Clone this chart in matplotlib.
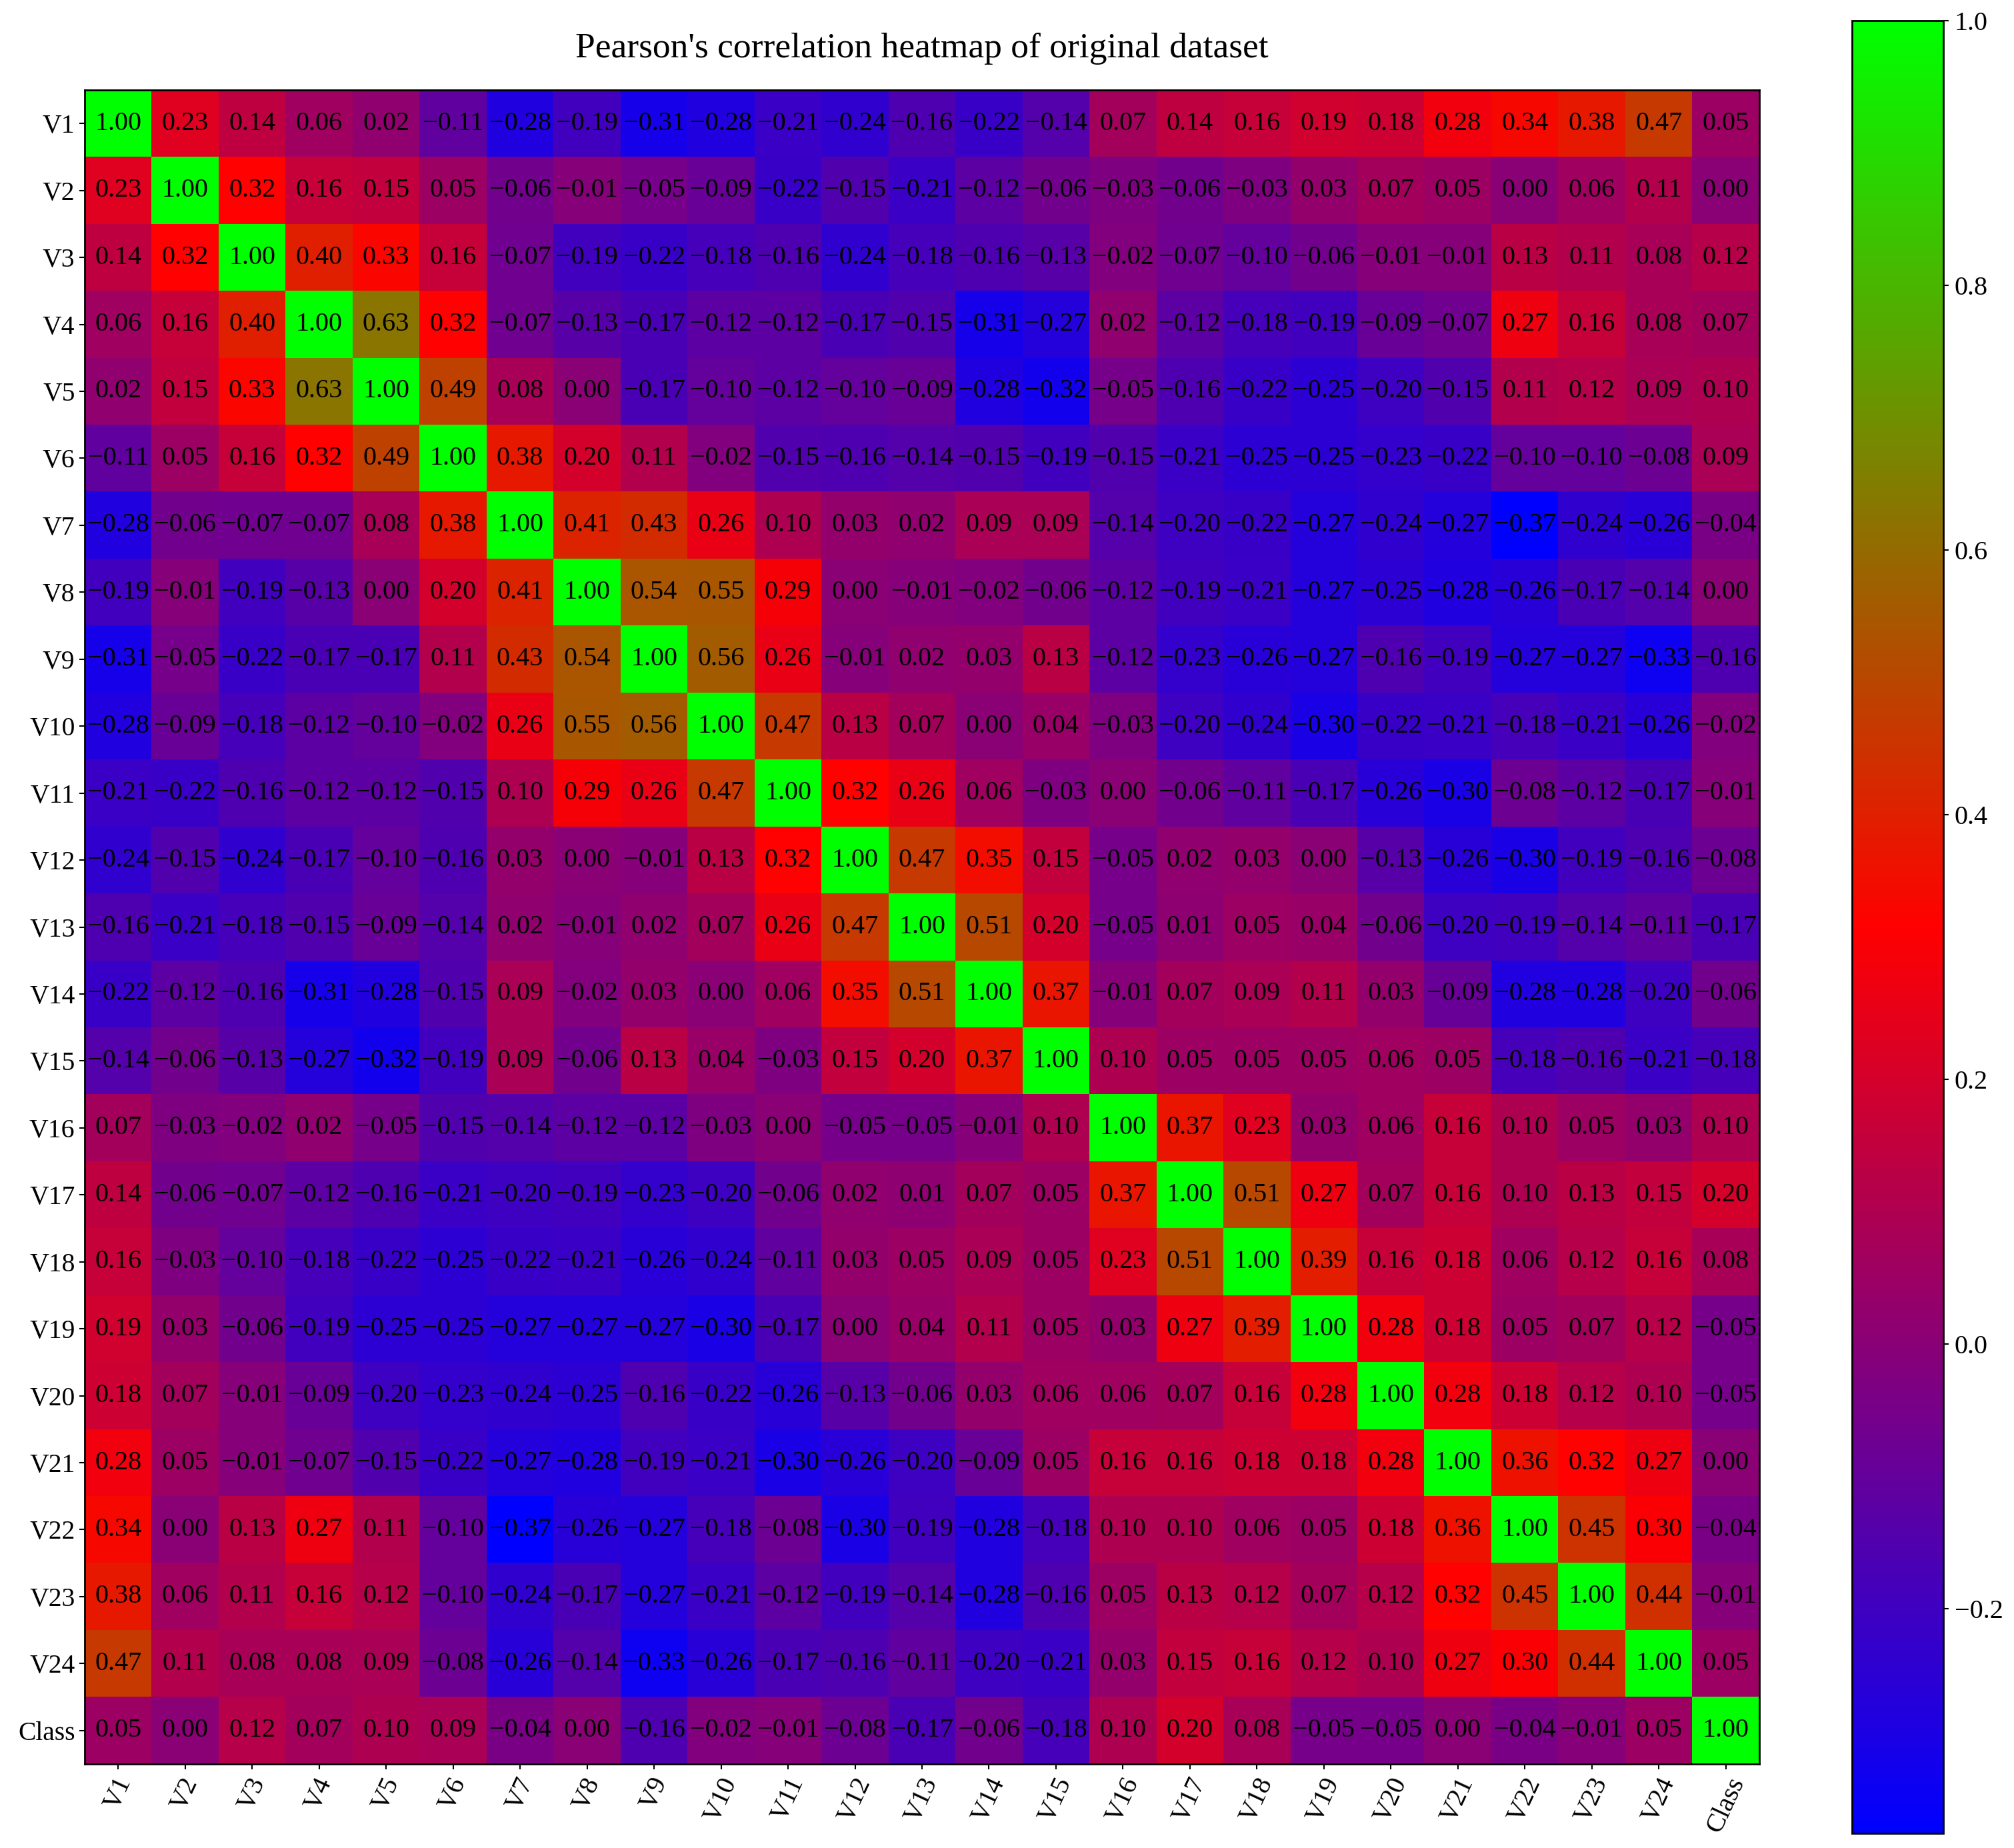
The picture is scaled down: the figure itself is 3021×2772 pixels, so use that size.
import matplotlib
matplotlib.use('Agg')
import matplotlib.pyplot as plt
import numpy as np

labels = ['V1', 'V2', 'V3', 'V4', 'V5', 'V6', 'V7', 'V8', 'V9', 'V10', 'V11', 'V12', 'V13',
          'V14', 'V15', 'V16', 'V17', 'V18', 'V19', 'V20', 'V21', 'V22', 'V23', 'V24', 'Class']
cbar_ticks = [-0.2, 0.0, 0.2, 0.4, 0.6, 0.8, 1.0]

# correlation rows
r_v1 = [1.00, 0.23, 0.14, 0.06, 0.02, -0.11, -0.28, -0.19, -0.31, -0.28, -0.21, -0.24, -0.16, -0.22, -0.14, 0.07, 0.14, 0.16, 0.19, 0.18, 0.28, 0.34, 0.38, 0.47, 0.05]
r_v2 = [0.23, 1.00, 0.32, 0.16, 0.15, 0.05, -0.06, -0.01, -0.05, -0.09, -0.22, -0.15, -0.21, -0.12, -0.06, -0.03, -0.06, -0.03, 0.03, 0.07, 0.05, 0.00, 0.06, 0.11, 0.00]
r_v3 = [0.14, 0.32, 1.00, 0.40, 0.33, 0.16, -0.07, -0.19, -0.22, -0.18, -0.16, -0.24, -0.18, -0.16, -0.13, -0.02, -0.07, -0.10, -0.06, -0.01, -0.01, 0.13, 0.11, 0.08, 0.12]
r_v4 = [0.06, 0.16, 0.40, 1.00, 0.63, 0.32, -0.07, -0.13, -0.17, -0.12, -0.12, -0.17, -0.15, -0.31, -0.27, 0.02, -0.12, -0.18, -0.19, -0.09, -0.07, 0.27, 0.16, 0.08, 0.07]
r_v5 = [0.02, 0.15, 0.33, 0.63, 1.00, 0.49, 0.08, 0.00, -0.17, -0.10, -0.12, -0.10, -0.09, -0.28, -0.32, -0.05, -0.16, -0.22, -0.25, -0.20, -0.15, 0.11, 0.12, 0.09, 0.10]
r_v6 = [-0.11, 0.05, 0.16, 0.32, 0.49, 1.00, 0.38, 0.20, 0.11, -0.02, -0.15, -0.16, -0.14, -0.15, -0.19, -0.15, -0.21, -0.25, -0.25, -0.23, -0.22, -0.10, -0.10, -0.08, 0.09]
r_v7 = [-0.28, -0.06, -0.07, -0.07, 0.08, 0.38, 1.00, 0.41, 0.43, 0.26, 0.10, 0.03, 0.02, 0.09, 0.09, -0.14, -0.20, -0.22, -0.27, -0.24, -0.27, -0.37, -0.24, -0.26, -0.04]
r_v8 = [-0.19, -0.01, -0.19, -0.13, 0.00, 0.20, 0.41, 1.00, 0.54, 0.55, 0.29, 0.00, -0.01, -0.02, -0.06, -0.12, -0.19, -0.21, -0.27, -0.25, -0.28, -0.26, -0.17, -0.14, 0.00]
r_v9 = [-0.31, -0.05, -0.22, -0.17, -0.17, 0.11, 0.43, 0.54, 1.00, 0.56, 0.26, -0.01, 0.02, 0.03, 0.13, -0.12, -0.23, -0.26, -0.27, -0.16, -0.19, -0.27, -0.27, -0.33, -0.16]
r_v10 = [-0.28, -0.09, -0.18, -0.12, -0.10, -0.02, 0.26, 0.55, 0.56, 1.00, 0.47, 0.13, 0.07, 0.00, 0.04, -0.03, -0.20, -0.24, -0.30, -0.22, -0.21, -0.18, -0.21, -0.26, -0.02]
r_v11 = [-0.21, -0.22, -0.16, -0.12, -0.12, -0.15, 0.10, 0.29, 0.26, 0.47, 1.00, 0.32, 0.26, 0.06, -0.03, 0.00, -0.06, -0.11, -0.17, -0.26, -0.30, -0.08, -0.12, -0.17, -0.01]
r_v12 = [-0.24, -0.15, -0.24, -0.17, -0.10, -0.16, 0.03, 0.00, -0.01, 0.13, 0.32, 1.00, 0.47, 0.35, 0.15, -0.05, 0.02, 0.03, 0.00, -0.13, -0.26, -0.30, -0.19, -0.16, -0.08]
r_v13 = [-0.16, -0.21, -0.18, -0.15, -0.09, -0.14, 0.02, -0.01, 0.02, 0.07, 0.26, 0.47, 1.00, 0.51, 0.20, -0.05, 0.01, 0.05, 0.04, -0.06, -0.20, -0.19, -0.14, -0.11, -0.17]
r_v14 = [-0.22, -0.12, -0.16, -0.31, -0.28, -0.15, 0.09, -0.02, 0.03, 0.00, 0.06, 0.35, 0.51, 1.00, 0.37, -0.01, 0.07, 0.09, 0.11, 0.03, -0.09, -0.28, -0.28, -0.20, -0.06]
r_v15 = [-0.14, -0.06, -0.13, -0.27, -0.32, -0.19, 0.09, -0.06, 0.13, 0.04, -0.03, 0.15, 0.20, 0.37, 1.00, 0.10, 0.05, 0.05, 0.05, 0.06, 0.05, -0.18, -0.16, -0.21, -0.18]
r_v16 = [0.07, -0.03, -0.02, 0.02, -0.05, -0.15, -0.14, -0.12, -0.12, -0.03, 0.00, -0.05, -0.05, -0.01, 0.10, 1.00, 0.37, 0.23, 0.03, 0.06, 0.16, 0.10, 0.05, 0.03, 0.10]
r_v17 = [0.14, -0.06, -0.07, -0.12, -0.16, -0.21, -0.20, -0.19, -0.23, -0.20, -0.06, 0.02, 0.01, 0.07, 0.05, 0.37, 1.00, 0.51, 0.27, 0.07, 0.16, 0.10, 0.13, 0.15, 0.20]
r_v18 = [0.16, -0.03, -0.10, -0.18, -0.22, -0.25, -0.22, -0.21, -0.26, -0.24, -0.11, 0.03, 0.05, 0.09, 0.05, 0.23, 0.51, 1.00, 0.39, 0.16, 0.18, 0.06, 0.12, 0.16, 0.08]
r_v19 = [0.19, 0.03, -0.06, -0.19, -0.25, -0.25, -0.27, -0.27, -0.27, -0.30, -0.17, 0.00, 0.04, 0.11, 0.05, 0.03, 0.27, 0.39, 1.00, 0.28, 0.18, 0.05, 0.07, 0.12, -0.05]
r_v20 = [0.18, 0.07, -0.01, -0.09, -0.20, -0.23, -0.24, -0.25, -0.16, -0.22, -0.26, -0.13, -0.06, 0.03, 0.06, 0.06, 0.07, 0.16, 0.28, 1.00, 0.28, 0.18, 0.12, 0.10, -0.05]
r_v21 = [0.28, 0.05, -0.01, -0.07, -0.15, -0.22, -0.27, -0.28, -0.19, -0.21, -0.30, -0.26, -0.20, -0.09, 0.05, 0.16, 0.16, 0.18, 0.18, 0.28, 1.00, 0.36, 0.32, 0.27, 0.00]
r_v22 = [0.34, 0.00, 0.13, 0.27, 0.11, -0.10, -0.37, -0.26, -0.27, -0.18, -0.08, -0.30, -0.19, -0.28, -0.18, 0.10, 0.10, 0.06, 0.05, 0.18, 0.36, 1.00, 0.45, 0.30, -0.04]
r_v23 = [0.38, 0.06, 0.11, 0.16, 0.12, -0.10, -0.24, -0.17, -0.27, -0.21, -0.12, -0.19, -0.14, -0.28, -0.16, 0.05, 0.13, 0.12, 0.07, 0.12, 0.32, 0.45, 1.00, 0.44, -0.01]
r_v24 = [0.47, 0.11, 0.08, 0.08, 0.09, -0.08, -0.26, -0.14, -0.33, -0.26, -0.17, -0.16, -0.11, -0.20, -0.21, 0.03, 0.15, 0.16, 0.12, 0.10, 0.27, 0.30, 0.44, 1.00, 0.05]
r_class = [0.05, 0.00, 0.12, 0.07, 0.10, 0.09, -0.04, 0.00, -0.16, -0.02, -0.01, -0.08, -0.17, -0.06, -0.18, 0.10, 0.20, 0.08, -0.05, -0.05, 0.00, -0.04, -0.01, 0.05, 1.00]

corr = np.array([r_v1, r_v2, r_v3, r_v4, r_v5, r_v6, r_v7, r_v8, r_v9, r_v10, r_v11, r_v12, r_v13,
                 r_v14, r_v15, r_v16, r_v17, r_v18, r_v19, r_v20, r_v21, r_v22, r_v23, r_v24, r_class])

plt.rcParams['font.family'] = ['Liberation Serif', 'DejaVu Serif']

W, H = 3021, 2772
fig = plt.figure(figsize=(W / 100, H / 100), dpi=100)


def px_axes(x0, y0, x1, y1):
    return fig.add_axes([x0 / W, 1 - y1 / H, (x1 - x0) / W, (y1 - y0) / H])


ax = px_axes(127, 135, 2639, 2646)
cax = px_axes(2778, 31, 2915, 2750)

im = ax.imshow(corr, cmap='brg', vmin=-0.37, vmax=1.0, aspect='auto', interpolation='nearest')
for i in range(len(labels)):
    for j in range(len(labels)):
        txt = f'{corr[i, j]:.2f}'.replace('-', '\u2212')
        ax.text(j, i, txt, ha='center', va='center', fontsize=29, color='black')

ax.set_xticks(range(len(labels)))
ax.set_yticks(range(len(labels)))
ax.set_xticklabels(labels, rotation=65, fontsize=29)
ax.set_yticklabels(labels, fontsize=28.5)
ax.tick_params(length=6, width=1.5, pad=4.5)
for s in ax.spines.values():
    s.set_linewidth(2)
ax.set_title("Pearson's correlation heatmap of original dataset", fontsize=38.5, pad=35)

cb = fig.colorbar(im, cax=cax, ticks=cbar_ticks)
cb.ax.tick_params(labelsize=29, length=6, width=1.5, pad=6)
cb.outline.set_linewidth(2)

fig.savefig('out.png', dpi=100)
